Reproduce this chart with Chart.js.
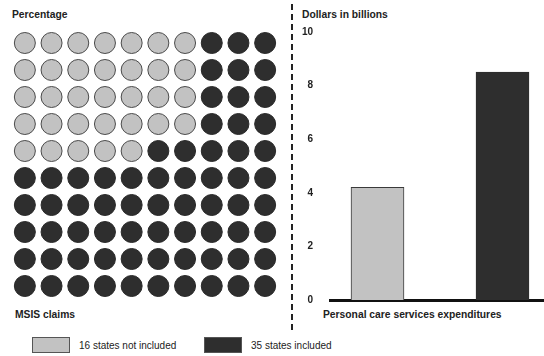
<!DOCTYPE html>
<html>
<head>
<meta charset="utf-8">
<script src="https://cdn.jsdelivr.net/npm/chart.js@4.4.0/dist/chart.umd.min.js"></script>
<style>
  body {
    margin: 0;
    width: 544px;
    height: 356px;
    overflow: hidden;
    background: #fff;
    position: relative;
    font-family: "Liberation Sans", Arial, sans-serif;
    color: #222;
  }
  .lbl {
    position: absolute;
    font-size: 10.3px;
    font-weight: bold;
    white-space: nowrap;
    line-height: 12px;
  }
  #waffleWrap { position: absolute; left: 0; top: 0; }
  #barWrap { position: absolute; left: 290px; top: 0; }
  .divider {
    position: absolute;
    left: 291px;
    top: 4px;
    height: 326px;
    border-left: 2px dashed #222;
  }
  .legend-item {
    position: absolute;
    top: 337px;
    height: 17px;
    font-size: 10px;
    line-height: 17px;
    white-space: nowrap;
  }
  .legend-item .sw {
    display: inline-block;
    width: 38px;
    height: 16px;
    vertical-align: top;
    margin-right: 9px;
    box-sizing: border-box;
  }
</style>
</head>
<body>

<div class="lbl" style="left:12px; top:9px;">Percentage</div>
<div class="lbl" style="left:15px; top:309px;">MSIS claims</div>
<div class="lbl" style="left:302px; top:9px;">Dollars in billions</div>
<div class="lbl" style="left:323px; top:309px;">Personal care services expenditures</div>
<div class="divider"></div>

<div id="waffleWrap"><canvas id="waffleChart" width="290" height="330"></canvas></div>
<div id="barWrap"><canvas id="barChart" width="254" height="330"></canvas></div>

<div id="legend"></div>

<script>
// --- data ---
const groupLabels = ["16 states not included", "35 states included"];
const groupColors = ["#c2c2c2", "#2e2e2e"];

// waffle: 10 x 10 grid, number of light dots in each row (top to bottom)
const waffleCols = 10;
const lightPerRow = [7, 7, 7, 7, 5, 0, 0, 0, 0, 0];

// personal care services expenditures, dollars in billions
const spending = [4.2, 8.5];
const yTicks = [0, 2, 4, 6, 8, 10];

// --- waffle points ---
const lightDots = [];
const darkDots = [];
lightPerRow.forEach((n, row) => {
  for (let col = 0; col < waffleCols; col++) {
    const p = { x: col + 1, y: row + 1 };
    if (col < n) lightDots.push(p); else darkDots.push(p);
  }
});

new Chart(document.getElementById("waffleChart"), {
  type: "scatter",
  data: {
    datasets: [
      {
        label: groupLabels[0],
        data: lightDots,
        backgroundColor: groupColors[0],
        borderColor: "#4a4a4a",
        borderWidth: 1,
        pointRadius: 10.5
      },
      {
        label: groupLabels[1],
        data: darkDots,
        backgroundColor: groupColors[1],
        borderColor: "#2a2a2a",
        borderWidth: 1,
        pointRadius: 10.5
      }
    ]
  },
  options: {
    responsive: false,
    animation: false,
    clip: false,
    layout: { padding: { left: 10.5, right: 9.5, top: 29.5, bottom: 30.5 } },
    plugins: { legend: { display: false }, tooltip: { enabled: false } },
    scales: {
      x: { type: "linear", min: 0.5, max: 10.5, display: false },
      y: { type: "linear", min: 0.5, max: 10.5, reverse: true, display: false }
    }
  }
});

// --- bar chart ---
new Chart(document.getElementById("barChart"), {
  type: "bar",
  data: {
    datasets: [{
      data: spending.map((v, i) => ({ x: i + 1, y: v })),
      backgroundColor: groupColors,
      borderColor: ["#3a3a3a", "#2e2e2e"],
      borderWidth: 1,
      barThickness: 53
    }]
  },
  options: {
    responsive: false,
    animation: false,
    layout: { padding: { left: 0, right: 0, top: 32, bottom: 30 } },
    plugins: { legend: { display: false }, tooltip: { enabled: false } },
    scales: {
      x: {
        type: "linear",
        offset: false,
        min: 0.62,
        max: 2.332,
        grid: { display: false, drawTicks: false },
        ticks: { display: false },
        border: { display: true, color: "#111", width: 3 },
        afterFit: s => { s.height = 0; }
      },
      y: {
        min: 0,
        max: 10,
        grid: { display: false, drawTicks: false },
        border: { display: false },
        afterBuildTicks: s => { s.ticks = yTicks.map(v => ({ value: v })); },
        afterFit: s => { s.width = 40; },
        ticks: {
          padding: 17,
          color: "#222",
          font: { family: "'Liberation Sans', Arial, sans-serif", size: 10, weight: "bold" }
        }
      }
    }
  }
});

// --- legend ---
const legendX = [32, 204];
const legend = document.getElementById("legend");
groupLabels.forEach((label, i) => {
  const item = document.createElement("div");
  item.className = "legend-item";
  item.style.left = legendX[i] + "px";
  item.innerHTML = `<span class="sw" style="background:${groupColors[i]};border:1px solid #555"></span>${label}`;
  legend.appendChild(item);
});
</script>
</body>
</html>
